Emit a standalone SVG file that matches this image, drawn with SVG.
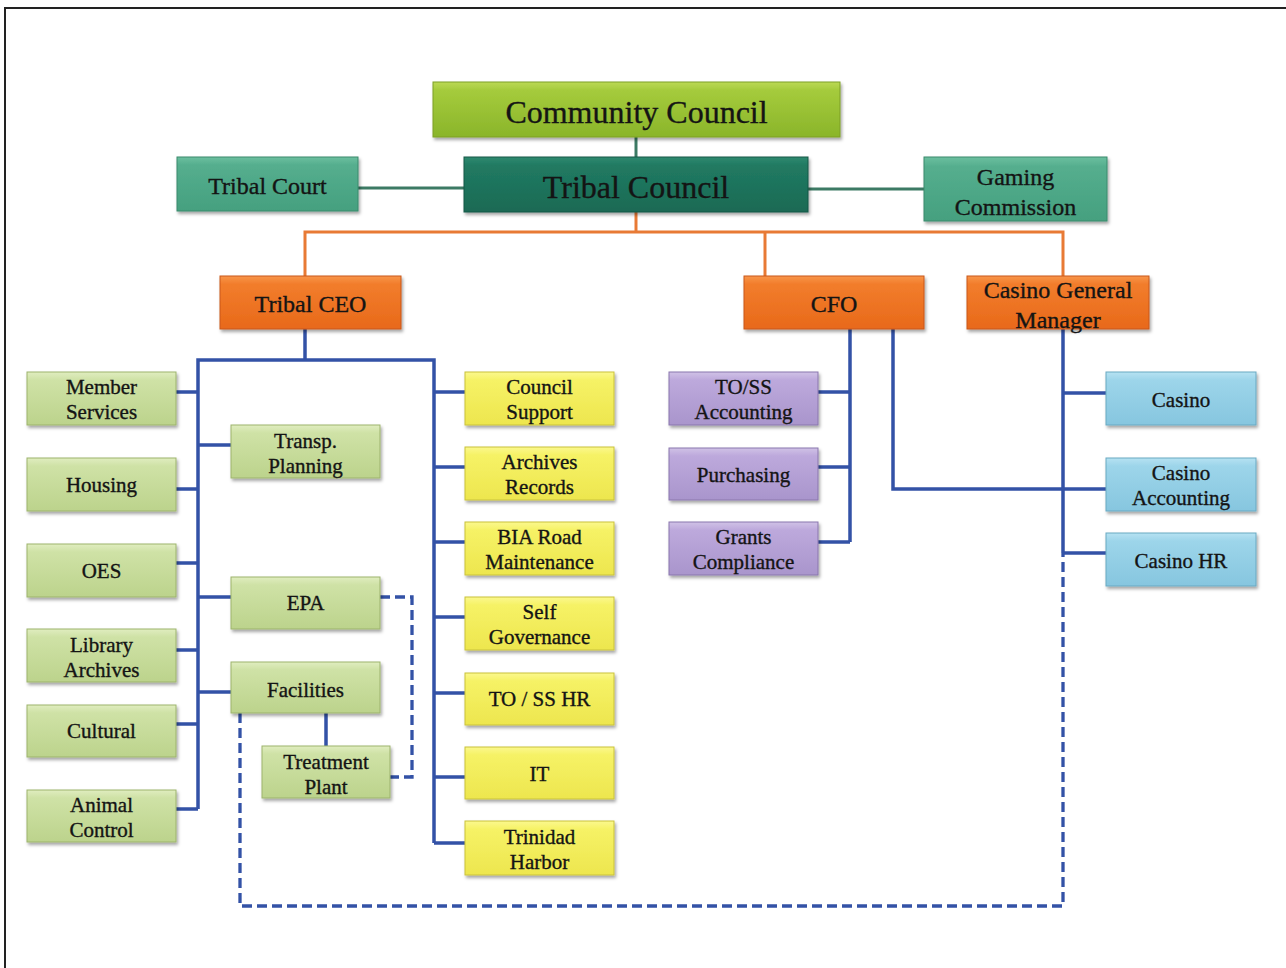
<svg xmlns="http://www.w3.org/2000/svg" width="1286" height="968" viewBox="0 0 1286 968">
<defs>
<linearGradient id="gLime" x1="0" y1="0" x2="0" y2="1"><stop offset="0" stop-color="#bcd955"/><stop offset="0.15" stop-color="#a5cb3c"/><stop offset="1" stop-color="#8ab52a"/></linearGradient>
<linearGradient id="gDark" x1="0" y1="0" x2="0" y2="1"><stop offset="0" stop-color="#2f8a70"/><stop offset="0.15" stop-color="#217a62"/><stop offset="1" stop-color="#1a6a54"/></linearGradient>
<linearGradient id="gTeal" x1="0" y1="0" x2="0" y2="1"><stop offset="0" stop-color="#6cbf9f"/><stop offset="0.15" stop-color="#55ae8e"/><stop offset="1" stop-color="#45a07f"/></linearGradient>
<linearGradient id="gOrange" x1="0" y1="0" x2="0" y2="1"><stop offset="0" stop-color="#f8964a"/><stop offset="0.15" stop-color="#f27d2c"/><stop offset="1" stop-color="#e8691a"/></linearGradient>
<linearGradient id="gGreen" x1="0" y1="0" x2="0" y2="1"><stop offset="0" stop-color="#e0edc0"/><stop offset="0.15" stop-color="#cfe2a6"/><stop offset="1" stop-color="#bcd38c"/></linearGradient>
<linearGradient id="gYellow" x1="0" y1="0" x2="0" y2="1"><stop offset="0" stop-color="#fbf88e"/><stop offset="0.15" stop-color="#f6f266"/><stop offset="1" stop-color="#ede64e"/></linearGradient>
<linearGradient id="gPurple" x1="0" y1="0" x2="0" y2="1"><stop offset="0" stop-color="#d0c2e6"/><stop offset="0.15" stop-color="#bda9dc"/><stop offset="1" stop-color="#a995cc"/></linearGradient>
<linearGradient id="gBlue" x1="0" y1="0" x2="0" y2="1"><stop offset="0" stop-color="#b6e2f2"/><stop offset="0.15" stop-color="#9dd5ea"/><stop offset="1" stop-color="#86c6df"/></linearGradient>
<filter id="sh" x="-10%" y="-10%" width="130%" height="140%"><feDropShadow dx="1.5" dy="2.5" stdDeviation="1.5" flood-color="#000" flood-opacity="0.35"/></filter>
</defs>
<style>
.box{filter:url(#sh);stroke-width:1}
.lime{fill:url(#gLime);stroke:#7c9f27}
.dark{fill:url(#gDark);stroke:#155846}
.teal{fill:url(#gTeal);stroke:#3a8a6c}
.orange{fill:url(#gOrange);stroke:#c9571a}
.green{fill:url(#gGreen);stroke:#9db36c}
.yellow{fill:url(#gYellow);stroke:#c9c23a}
.purple{fill:url(#gPurple);stroke:#8a77ad}
.blue{fill:url(#gBlue);stroke:#69a9c2}
text{font-family:"Liberation Serif","Times New Roman",serif;fill:#141414;stroke:#141414;stroke-width:0.35;text-anchor:middle}
.t32{font-size:32px}
.t24{font-size:24px}
.t21{font-size:21px}
.c{fill:none;stroke-linejoin:miter}
.ct{stroke:#3c7a64;stroke-width:3}
.co{stroke:#e87a35;stroke-width:3}
.cb{stroke:#3352a6;stroke-width:3.5}
.cd{stroke:#3352a6;stroke-width:3.3;stroke-dasharray:10 5}
</style>
<rect x="0" y="0" width="1286" height="968" fill="#ffffff"/>
<path d="M5,968 V8 H1286" fill="none" stroke="#222" stroke-width="2"/>

<g id="connectors">
<path class="c ct" d="M636,137 V157"/>
<path class="c ct" d="M358,188 H464"/>
<path class="c ct" d="M808,189 H924"/>
<path class="c co" d="M636,212 V232"/>
<path class="c co" d="M305,276 V232 H1063 V276"/>
<path class="c co" d="M765,232 V276"/>
<path class="c cb" d="M305,329 V360"/>
<path class="c cb" d="M198,809 V360 H434 V843"/>
<path class="c cb" d="M176,392 H198 M176,489 H198 M176,563 H198 M176,650 H198 M176,724 H198 M176,809 H198"/>
<path class="c cb" d="M198,445 H231 M198,597 H231 M198,692 H231 M326,713 V746"/>
<path class="c cb" d="M434,392 H465 M434,467 H465 M434,542 H465 M434,617 H465 M434,693 H465 M434,777 H465 M434,843 H465"/>
<path class="c cb" d="M850,329 V542 M818,392 H850 M818,467 H850 M818,542 H850"/>
<path class="c cb" d="M893,329 V489 H1106"/>
<path class="c cb" d="M1063,329 V553 M1063,393 H1106 M1063,553 H1106"/>
<path class="c cd" d="M380,597 H412 V777 H390"/>
<path class="c cd" d="M240,713 V906 H1063 V553"/>
</g>

<g id="community-council"><rect class="box lime" x="433" y="82" width="407" height="55"/><text class="t32" x="636.5" y="123">Community Council</text></g>
<g id="tribal-council"><rect class="box dark" x="464" y="157" width="344" height="55"/><text class="t32" x="636" y="198">Tribal Council</text></g>
<g id="tribal-court"><rect class="box teal" x="177" y="157" width="181" height="54"/><text class="t24" x="267.5" y="194">Tribal Court</text></g>
<g id="gaming-commission"><rect class="box teal" x="924" y="157" width="183" height="64"/><text class="t24" x="1015.5" y="185">Gaming</text><text class="t24" x="1015.5" y="215">Commission</text></g>

<g id="tribal-ceo"><rect class="box orange" x="220" y="276" width="181" height="53"/><text class="t24" x="310.5" y="312">Tribal CEO</text></g>
<g id="cfo"><rect class="box orange" x="744" y="276" width="180" height="53"/><text class="t24" x="834" y="312">CFO</text></g>
<g id="casino-gm"><rect class="box orange" x="967" y="276" width="182" height="53"/><text class="t24" x="1058" y="298">Casino General</text><text class="t24" x="1058" y="328">Manager</text></g>

<g id="member-services"><rect class="box green" x="27" y="372" width="149" height="53"/><text class="t21" x="101.5" y="394">Member</text><text class="t21" x="101.5" y="419">Services</text></g>
<g id="housing"><rect class="box green" x="27" y="458" width="149" height="53"/><text class="t21" x="101.5" y="492">Housing</text></g>
<g id="oes"><rect class="box green" x="27" y="544" width="149" height="53"/><text class="t21" x="101.5" y="578">OES</text></g>
<g id="library-archives"><rect class="box green" x="27" y="629" width="149" height="53"/><text class="t21" x="101.5" y="652">Library</text><text class="t21" x="101.5" y="677">Archives</text></g>
<g id="cultural"><rect class="box green" x="27" y="705" width="149" height="52"/><text class="t21" x="101.5" y="738">Cultural</text></g>
<g id="animal-control"><rect class="box green" x="27" y="790" width="149" height="52"/><text class="t21" x="101.5" y="812">Animal</text><text class="t21" x="101.5" y="837">Control</text></g>

<g id="transp-planning"><rect class="box green" x="231" y="425" width="149" height="53"/><text class="t21" x="305.5" y="448">Transp.</text><text class="t21" x="305.5" y="473">Planning</text></g>
<g id="epa"><rect class="box green" x="231" y="577" width="149" height="52"/><text class="t21" x="305.5" y="610">EPA</text></g>
<g id="facilities"><rect class="box green" x="231" y="662" width="149" height="51"/><text class="t21" x="305.5" y="697">Facilities</text></g>
<g id="treatment-plant"><rect class="box green" x="262" y="746" width="128" height="52"/><text class="t21" x="326" y="769">Treatment</text><text class="t21" x="326" y="794">Plant</text></g>

<g id="council-support"><rect class="box yellow" x="465" y="372" width="149" height="53"/><text class="t21" x="539.5" y="394">Council</text><text class="t21" x="539.5" y="419">Support</text></g>
<g id="archives-records"><rect class="box yellow" x="465" y="447" width="149" height="53"/><text class="t21" x="539.5" y="469">Archives</text><text class="t21" x="539.5" y="494">Records</text></g>
<g id="bia-road"><rect class="box yellow" x="465" y="522" width="149" height="53"/><text class="t21" x="539.5" y="544">BIA Road</text><text class="t21" x="539.5" y="569">Maintenance</text></g>
<g id="self-governance"><rect class="box yellow" x="465" y="597" width="149" height="53"/><text class="t21" x="539.5" y="619">Self</text><text class="t21" x="539.5" y="644">Governance</text></g>
<g id="toss-hr"><rect class="box yellow" x="465" y="673" width="149" height="52"/><text class="t21" x="539.5" y="706">TO / SS HR</text></g>
<g id="it"><rect class="box yellow" x="465" y="747" width="149" height="52"/><text class="t21" x="539.5" y="781">IT</text></g>
<g id="trinidad-harbor"><rect class="box yellow" x="465" y="821" width="149" height="54"/><text class="t21" x="539.5" y="844">Trinidad</text><text class="t21" x="539.5" y="869">Harbor</text></g>

<g id="toss-accounting"><rect class="box purple" x="669" y="372" width="149" height="53"/><text class="t21" x="743.5" y="394">TO/SS</text><text class="t21" x="743.5" y="419">Accounting</text></g>
<g id="purchasing"><rect class="box purple" x="669" y="448" width="149" height="52"/><text class="t21" x="743.5" y="482">Purchasing</text></g>
<g id="grants-compliance"><rect class="box purple" x="669" y="522" width="149" height="53"/><text class="t21" x="743.5" y="544">Grants</text><text class="t21" x="743.5" y="569">Compliance</text></g>

<g id="casino"><rect class="box blue" x="1106" y="372" width="150" height="53"/><text class="t21" x="1181" y="407">Casino</text></g>
<g id="casino-accounting"><rect class="box blue" x="1106" y="458" width="150" height="53"/><text class="t21" x="1181" y="480">Casino</text><text class="t21" x="1181" y="505">Accounting</text></g>
<g id="casino-hr"><rect class="box blue" x="1106" y="533" width="150" height="53"/><text class="t21" x="1181" y="568">Casino HR</text></g>
</svg>
